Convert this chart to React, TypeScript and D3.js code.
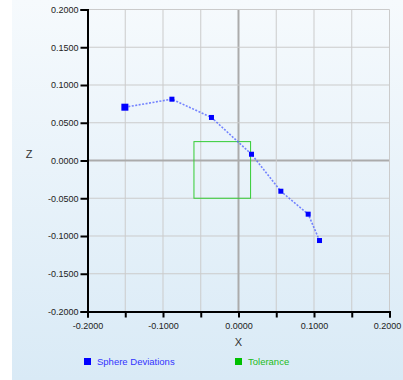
import { useEffect, useRef } from "react";
import * as d3 from "d3";

const sphereX = [-0.1505, -0.0882, -0.0358, 0.0172, 0.0561, 0.0923, 0.1073];
const sphereZ = [0.0706, 0.0812, 0.057, 0.0083, -0.0407, -0.0711, -0.106];
const toleranceX = [-0.059, 0.016];
const toleranceZ = [-0.05, 0.025];
const xTickLabels = ["-0.2000", "-0.1000", "0.0000", "0.1000", "0.2000"];
const zTickLabels = [
  "0.2000", "0.1500", "0.1000", "0.0500", "0.0000",
  "-0.0500", "-0.1000", "-0.1500", "-0.2000",
];
const seriesNames = ["Sphere Deviations", "Tolerance"];

export default function App() {
  const ref = useRef<SVGSVGElement>(null);

  useEffect(() => {
    const svg = d3.select(ref.current);
    svg.selectAll("*").remove();

    const width = 403;
    const height = 380;
    const font = "Liberation Sans, Arial, sans-serif";

    const x = d3.scaleLinear().domain([-0.2, 0.2]).range([87.5, 389.5]);
    const z = d3.scaleLinear().domain([-0.2, 0.2]).range([311.5, 9.5]);

    const defs = svg.append("defs");
    const grad = defs
      .append("linearGradient")
      .attr("id", "bg")
      .attr("x1", 0)
      .attr("y1", 0)
      .attr("x2", 0)
      .attr("y2", 1);
    grad.append("stop").attr("offset", "0%").attr("stop-color", "#f6fafd");
    grad.append("stop").attr("offset", "100%").attr("stop-color", "#d9eaf6");

    svg
      .append("rect")
      .attr("x", 12)
      .attr("y", 0)
      .attr("width", width - 12)
      .attr("height", height)
      .attr("fill", "url(#bg)");

    const ticks = d3.range(-4, 5).map((i) => i * 0.05);

    // grid
    const grid = svg.append("g");
    ticks.forEach((t) => {
      const zero = Math.abs(t) < 1e-9;
      grid
        .append("line")
        .attr("x1", x(t))
        .attr("x2", x(t))
        .attr("y1", z(0.2))
        .attr("y2", z(-0.2))
        .attr("stroke", zero ? "#ababab" : "#cbcbcb")
        .attr("stroke-width", zero ? 2 : 1);
      grid
        .append("line")
        .attr("x1", x(-0.2))
        .attr("x2", x(0.2))
        .attr("y1", z(t))
        .attr("y2", z(t))
        .attr("stroke", zero ? "#ababab" : "#cbcbcb")
        .attr("stroke-width", zero ? 2 : 1);
    });

    // tolerance box
    svg
      .append("rect")
      .attr("x", x(toleranceX[0]))
      .attr("y", z(toleranceZ[1]))
      .attr("width", x(toleranceX[1]) - x(toleranceX[0]))
      .attr("height", z(toleranceZ[0]) - z(toleranceZ[1]))
      .attr("fill", "none")
      .attr("stroke", "#33cc33")
      .attr("stroke-width", 1);

    // axes
    const yAxis = d3
      .axisLeft(z)
      .tickValues(ticks)
      .tickSize(7)
      .tickPadding(2)
      .tickFormat((_, i) => zTickLabels[zTickLabels.length - 1 - i]);
    const gy = svg
      .append("g")
      .attr("transform", `translate(${x(-0.2)},0)`)
      .call(yAxis);

    const xAxis = d3
      .axisBottom(x)
      .tickValues(ticks)
      .tickSize(6)
      .tickPadding(5)
      .tickFormat((_, i) => (i % 2 === 0 ? xTickLabels[i / 2] : ""));
    const gx = svg
      .append("g")
      .attr("transform", `translate(0,${z(-0.2)})`)
      .call(xAxis);

    [gx, gy].forEach((g) => {
      g.select(".domain").attr("stroke", "#000").attr("stroke-width", 2);
      g.selectAll(".tick line").attr("stroke", "#000").attr("stroke-width", 2);
      g.selectAll("text")
        .attr("fill", "#222")
        .attr("font-family", font)
        .attr("font-size", 9);
    });
    // keep the last x label inside the frame
    gx.selectAll<SVGTextElement, number>(".tick text")
      .filter((d) => d > 0.19)
      .attr("dx", -2.5);

    svg
      .append("text")
      .attr("x", 29)
      .attr("y", 158)
      .attr("text-anchor", "middle")
      .attr("font-family", font)
      .attr("font-size", 11)
      .attr("fill", "#333")
      .text("Z");
    svg
      .append("text")
      .attr("x", x(0))
      .attr("y", 346)
      .attr("text-anchor", "middle")
      .attr("font-family", font)
      .attr("font-size", 11)
      .attr("fill", "#333")
      .text("X");

    // series
    const pts = sphereX.map((v, i) => [v, sphereZ[i]] as [number, number]);
    const line = d3
      .line<[number, number]>()
      .x((d) => x(d[0]))
      .y((d) => z(d[1]));
    svg
      .append("path")
      .datum(pts)
      .attr("fill", "none")
      .attr("stroke", "#5566ff")
      .attr("stroke-opacity", 0.8)
      .attr("stroke-width", 1.6)
      .attr("stroke-dasharray", "2,1.5")
      .attr("d", line);

    svg
      .selectAll("rect.pt")
      .data(pts)
      .join("rect")
      .attr("class", "pt")
      .attr("x", (d, i) => x(d[0]) - (i === 0 ? 3.5 : 2.5))
      .attr("y", (d, i) => z(d[1]) - (i === 0 ? 3.5 : 2.5))
      .attr("width", (_, i) => (i === 0 ? 7 : 5))
      .attr("height", (_, i) => (i === 0 ? 7 : 5))
      .attr("fill", "#0000ff");

    // legend
    const legendColors = ["#0000ff", "#00c000"];
    const legendText = ["#3333ff", "#22bb22"];
    const legendX = [84, 235];
    seriesNames.forEach((name, i) => {
      svg
        .append("rect")
        .attr("x", legendX[i])
        .attr("y", 358)
        .attr("width", 7)
        .attr("height", 7)
        .attr("fill", legendColors[i]);
      svg
        .append("text")
        .attr("x", legendX[i] + 13)
        .attr("y", 365)
        .attr("font-family", font)
        .attr("font-size", 9.5)
        .attr("fill", legendText[i])
        .text(name);
    });
  }, []);

  return (
    <svg
      ref={ref}
      width={403}
      height={380}
      style={{ position: "absolute", left: 0, top: 0 }}
    />
  );
}
